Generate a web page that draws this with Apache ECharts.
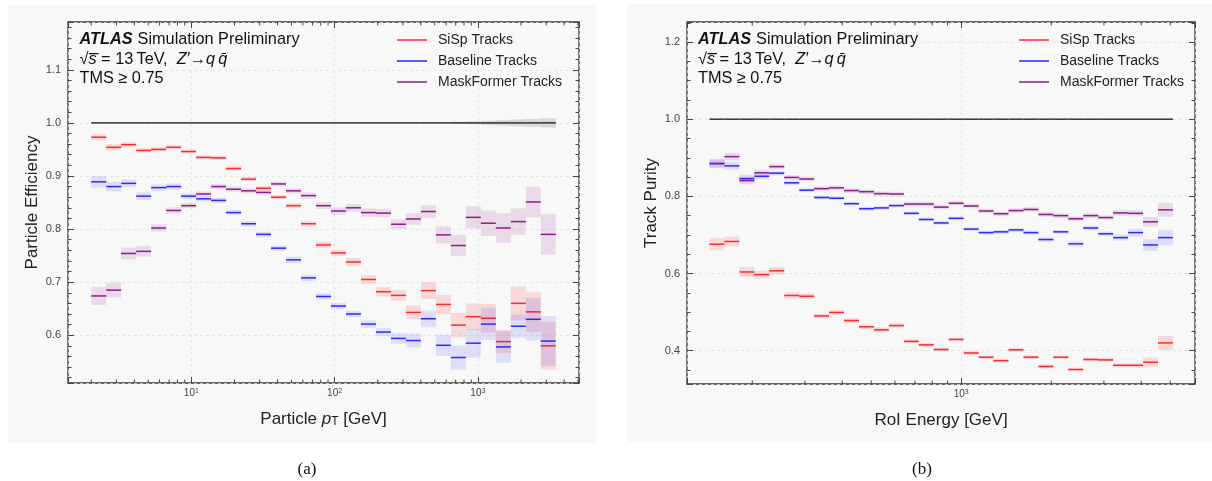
<!DOCTYPE html>
<html>
<head>
<meta charset="utf-8">
<script src="https://cdn.jsdelivr.net/npm/echarts@6/dist/echarts.min.js"></script>
<style>
html,body{margin:0;padding:0;background:#fff;}
#chart{width:1212px;height:481px;}
</style>
</head>
<body>
<div id="chart"></div>
<script>
// ---- panel (a): efficiency vs particle pT ----
var ptEdges = [2.00, 2.545, 3.237, 4.119, 5.241, 6.668, 8.484, 10.80, 13.73, 17.47, 22.23, 28.29, 35.99, 45.80, 58.27, 74.13,
  94.32, 120.0, 152.7, 194.3, 247.2, 314.5, 400.2, 509.2, 647.8, 824.2, 1048.6, 1334.2, 1697.5, 2159.7, 2747.9, 3496];
var sispEff = [0.973, 0.954, 0.959, 0.948, 0.950, 0.954, 0.946, 0.935, 0.934, 0.914, 0.894, 0.877, 0.860, 0.844, 0.810, 0.770,
  0.755, 0.738, 0.705, 0.682, 0.675, 0.643, 0.684, 0.658, 0.619, 0.635, 0.632, 0.588, 0.660, 0.644, 0.580];
var sispEffErr = [0.006, 0.006, 0.005, 0.004, 0.004, 0.004, 0.004, 0.004, 0.004, 0.004, 0.004, 0.004, 0.004, 0.005, 0.005, 0.006,
  0.006, 0.007, 0.008, 0.009, 0.010, 0.013, 0.016, 0.018, 0.023, 0.025, 0.027, 0.022, 0.032, 0.038, 0.045];
var baseEff = [0.889, 0.880, 0.886, 0.862, 0.878, 0.880, 0.862, 0.857, 0.854, 0.831, 0.810, 0.790, 0.764, 0.742, 0.708, 0.673,
  0.655, 0.640, 0.621, 0.606, 0.594, 0.590, 0.631, 0.581, 0.558, 0.585, 0.621, 0.578, 0.617, 0.630, 0.589];
var baseEffErr = [0.011, 0.009, 0.007, 0.007, 0.006, 0.006, 0.005, 0.005, 0.005, 0.005, 0.005, 0.005, 0.005, 0.006, 0.006, 0.006,
  0.006, 0.006, 0.007, 0.008, 0.010, 0.013, 0.016, 0.020, 0.023, 0.027, 0.030, 0.030, 0.022, 0.040, 0.047];
var mfEff = [0.674, 0.685, 0.754, 0.758, 0.802, 0.835, 0.844, 0.866, 0.880, 0.875, 0.872, 0.869, 0.885, 0.872, 0.863, 0.844,
  0.834, 0.840, 0.831, 0.830, 0.809, 0.819, 0.833, 0.789, 0.769, 0.822, 0.811, 0.802, 0.814, 0.851, 0.790];
var mfEffErr = [0.017, 0.014, 0.011, 0.010, 0.007, 0.006, 0.005, 0.005, 0.005, 0.005, 0.005, 0.005, 0.005, 0.005, 0.006, 0.006,
  0.007, 0.007, 0.008, 0.008, 0.009, 0.011, 0.012, 0.016, 0.020, 0.021, 0.024, 0.028, 0.025, 0.029, 0.038];
var truthErrA = [0, 0, 0, 0, 0, 0, 0, 0, 0, 0, 0, 0, 0, 0, 0, 0,
  0, 0, 0, 0, 0, 0, 0, 0, 0.002, 0.0025, 0.004, 0.005, 0.0065, 0.0075, 0.0088];
var minorTicksA = [2, 3, 4, 5, 6, 7, 8, 9, 20, 30, 40, 50, 60, 70, 80, 90, 200, 300, 400, 500, 600, 700, 800, 900, 2000, 3000, 4000, 5000];

// ---- panel (b): purity vs RoI energy ----
var eEdges = [143.9, 161.4, 181.1, 203.2, 228.0, 255.9, 287.1, 322.1, 361.4, 405.5, 455.0, 510.5, 572.8, 642.7, 721.1, 809.1,
  907.8, 1018.6, 1142.9, 1282.3, 1438.8, 1614.4, 1811.3, 2032.4, 2280.4, 2558.6, 2870.8, 3221.1, 3614.1, 4055.1, 4549.9, 5105];
var sispPur = [0.676, 0.683, 0.604, 0.597, 0.607, 0.543, 0.541, 0.490, 0.499, 0.478, 0.462, 0.454, 0.465, 0.424, 0.415, 0.403,
  0.429, 0.394, 0.383, 0.374, 0.402, 0.383, 0.359, 0.383, 0.351, 0.377, 0.376, 0.362, 0.362, 0.370, 0.420];
var sispPurErr = [0.016, 0.013, 0.013, 0.010, 0.010, 0.008, 0.007, 0.006, 0.006, 0.006, 0.006, 0.006, 0.006, 0.005, 0.005, 0.005,
  0.005, 0.005, 0.005, 0.005, 0.005, 0.005, 0.005, 0.005, 0.005, 0.005, 0.005, 0.006, 0.006, 0.012, 0.018];
var basePur = [0.885, 0.879, 0.846, 0.852, 0.860, 0.835, 0.816, 0.797, 0.795, 0.781, 0.768, 0.770, 0.776, 0.756, 0.740, 0.731,
  0.743, 0.715, 0.706, 0.708, 0.713, 0.706, 0.688, 0.708, 0.677, 0.718, 0.703, 0.693, 0.706, 0.674, 0.693];
var basePurErr = [0.010, 0.010, 0.010, 0.008, 0.006, 0.006, 0.005, 0.005, 0.005, 0.005, 0.005, 0.005, 0.005, 0.005, 0.005, 0.005,
  0.005, 0.005, 0.005, 0.005, 0.005, 0.005, 0.006, 0.005, 0.007, 0.006, 0.006, 0.008, 0.010, 0.015, 0.020];
var mfPur = [0.885, 0.903, 0.841, 0.861, 0.877, 0.849, 0.845, 0.820, 0.822, 0.815, 0.812, 0.807, 0.806, 0.780, 0.780, 0.772,
  0.782, 0.775, 0.762, 0.755, 0.763, 0.766, 0.753, 0.750, 0.742, 0.750, 0.745, 0.757, 0.756, 0.734, 0.765];
var mfPurErr = [0.012, 0.010, 0.010, 0.008, 0.007, 0.006, 0.006, 0.006, 0.006, 0.006, 0.006, 0.006, 0.006, 0.006, 0.006, 0.006,
  0.006, 0.006, 0.006, 0.006, 0.006, 0.006, 0.006, 0.006, 0.006, 0.006, 0.006, 0.008, 0.008, 0.012, 0.018];
var minorTicksB = [200, 300, 400, 500, 600, 700, 800, 900, 2000, 3000, 4000, 5000];

var seriesNames = ['SiSp Tracks', 'Baseline Tracks', 'MaskFormer Tracks'];
var FONT = '"Liberation Sans", Arial, sans-serif';
var RED = '#ff2a2a', BLUE = '#2a2aff', PURPLE = '#8a1f8a';

var chart = echarts.init(document.getElementById('chart'));

function binData(edges, vals, errs) {
  return vals.map(function (v, i) { return [edges[i], edges[i + 1], v, errs[i]]; });
}

// step segments with shaded error box
function binRenderer(lineColor, fillColor, lw) {
  return function (params, api) {
    var lo = api.value(0), hi = api.value(1), v = api.value(2), e = api.value(3);
    var cs = params.coordSys;
    var a = api.coord([lo, v]), b = api.coord([hi, v]);
    var children = [];
    if (e > 0) {
      var p1 = api.coord([lo, v + e]), p2 = api.coord([hi, v - e]);
      var r = echarts.graphic.clipRectByRect({x: p1[0], y: p1[1], width: p2[0] - p1[0], height: p2[1] - p1[1]},
        {x: cs.x, y: cs.y, width: cs.width, height: cs.height});
      if (r) children.push({type: 'rect', shape: r, style: {fill: fillColor}});
    }
    children.push({type: 'line', shape: {x1: a[0], y1: a[1], x2: b[0], y2: b[1]}, style: {stroke: lineColor, lineWidth: lw}});
    return {type: 'group', children: children};
  };
}

function minorTickRenderer(params, api) {
  var x = api.coord([api.value(0), api.value(1)])[0];
  var cs = params.coordSys;
  if (x <= cs.x + 0.5 || x >= cs.x + cs.width - 0.5) return;
  var bot = cs.y + cs.height;
  return {type: 'group', children: [
    {type: 'line', shape: {x1: x, y1: bot, x2: x, y2: bot - 3.5}, style: {stroke: '#444', lineWidth: 1}},
    {type: 'line', shape: {x1: x, y1: cs.y, x2: x, y2: cs.y + 3.5}, style: {stroke: '#444', lineWidth: 1}}
  ]};
}

function binSeries(name, gi, edges, vals, errs, color, fill) {
  return {
    name: name, type: 'custom', xAxisIndex: gi * 2, yAxisIndex: gi * 2, silent: true,
    itemStyle: {color: color},
    renderItem: binRenderer(color, fill, 1.5),
    encode: {x: [0, 1], y: [2]},
    data: binData(edges, vals, errs)
  };
}

function logLabel(v) {
  var e = Math.log10(v);
  if (Math.abs(e - Math.round(e)) > 0.01) return '';
  return '10{s|' + Math.round(e) + '}';
}

function xAxes(gi, min, max, name) {
  return [{
    type: 'log', gridIndex: gi, position: 'bottom', min: min, max: max, logBase: 10,
    name: name, nameLocation: 'middle', nameGap: 28,
    nameTextStyle: {fontFamily: FONT, fontSize: 17, color: '#222',
      rich: {i: {fontFamily: FONT, fontSize: 17, fontStyle: 'italic', color: '#222'},
             sub: {fontFamily: FONT, fontSize: 12, color: '#222', verticalAlign: 'bottom', lineHeight: 12}}},
    axisLine: {show: false},
    axisTick: {inside: true, length: 6, lineStyle: {color: '#444', width: 1}},
    axisLabel: {formatter: logLabel, margin: 5, color: '#444', fontFamily: FONT, fontSize: 10,
      rich: {s: {fontSize: 7, fontFamily: FONT, color: '#444', verticalAlign: 'top', lineHeight: 8}}},
    splitLine: {show: true, lineStyle: {type: [3, 3], color: '#e0e0e0', width: 0.8}}
  }, {
    type: 'log', gridIndex: gi, position: 'top', min: min, max: max, logBase: 10,
    axisLine: {show: false},
    axisTick: {inside: true, length: 6, lineStyle: {color: '#444', width: 1}},
    axisLabel: {show: false}, splitLine: {show: false}
  }];
}

function yAxes(gi, min, max, name, step, minorSplit) {
  var lab = function (v) {
    return Math.abs(v / step - Math.round(v / step)) < 1e-6 ? v.toFixed(1) : '';
  };
  return [{
    type: 'value', gridIndex: gi, position: 'left', min: min, max: max, splitNumber: 5,
    name: name, nameLocation: 'middle', nameGap: 27,
    nameTextStyle: {fontFamily: FONT, fontSize: 17, color: '#222'},
    axisLine: {show: false},
    axisTick: {inside: true, length: 6, lineStyle: {color: '#444', width: 1}},
    minorTick: {show: true, splitNumber: minorSplit, length: 3.5, lineStyle: {color: '#444', width: 1}},
    axisLabel: {formatter: lab, margin: 7, color: '#444', fontFamily: FONT, fontSize: 11},
    splitLine: {show: true, lineStyle: {type: [3, 3], color: '#e0e0e0', width: 0.8}}
  }, {
    type: 'value', gridIndex: gi, position: 'right', min: min, max: max, splitNumber: 5,
    axisLine: {show: false},
    axisTick: {inside: true, length: 6, lineStyle: {color: '#444', width: 1}},
    minorTick: {show: true, splitNumber: minorSplit, length: 3.5, lineStyle: {color: '#444', width: 1}},
    axisLabel: {show: false}, splitLine: {show: false}
  }];
}

function atlasTitle(left) {
  var base = {fontFamily: FONT, fontSize: 16.3, fontWeight: 'normal', color: '#111', lineHeight: 19.5};
  return {
    left: left, top: 25,
    text: '{a|ATLAS} {b|Simulation Preliminary}\n{b|\u221A}{i|s\u0305}{b| = 13\u2009TeV,  }{i|Z\u2032}{b|\u2192}{i|q\u2009q\u0304}\n{b|TMS \u2265 0.75}',
    textStyle: {fontWeight: 'normal', rich: {
      a: Object.assign({}, base, {fontWeight: 'bold', fontStyle: 'italic'}),
      b: base,
      i: Object.assign({}, base, {fontStyle: 'italic'})
    }}
  };
}

function legendAt(left) {
  return {
    left: left, top: 32, padding: 0, orient: 'vertical', icon: 'rect', itemWidth: 30, itemHeight: 1.5, itemGap: 5,
    selectedMode: false, data: seriesNames,
    textStyle: {fontFamily: FONT, fontSize: 14, color: '#222', lineHeight: 16, padding: [0, 0, 0, 6]}
  };
}

function truthSeries(gi, edges, errs) {
  return {
    type: 'custom', xAxisIndex: gi * 2, yAxisIndex: gi * 2, silent: true,
    renderItem: binRenderer('#333', 'rgba(120,120,120,0.25)', 1.5),
    encode: {x: [0, 1], y: [2]},
    data: binData(edges, edges.slice(1).map(function () { return 1.0; }), errs)
  };
}

function minorSeries(gi, ticks) {
  return {
    type: 'custom', xAxisIndex: gi * 2, yAxisIndex: gi * 2, silent: true,
    renderItem: minorTickRenderer, encode: {x: 0, y: 1},
    data: ticks.map(function (t) { return [t, 0.8]; })
  };
}

var option = {
  backgroundColor: '#ffffff',
  animation: false,
  graphic: [
    {type: 'rect', z: -10, shape: {x: 8, y: 5, width: 588, height: 438}, style: {fill: '#f8f8f8'}},
    {type: 'rect', z: -10, shape: {x: 627, y: 4, width: 585, height: 438}, style: {fill: '#f8f8f8'}}
  ],
  title: [
    atlasTitle(74.5),
    atlasTitle(693),
    {text: '(a)', left: 302, top: 456, textAlign: 'center',
      textStyle: {fontFamily: '"Liberation Serif", serif', fontSize: 17, fontWeight: 'normal', color: '#111'}},
    {text: '(b)', left: 917, top: 456, textAlign: 'center',
      textStyle: {fontFamily: '"Liberation Serif", serif', fontSize: 17, fontWeight: 'normal', color: '#111'}}
  ],
  legend: [legendAt(397), legendAt(1019)],
  grid: [
    {left: 68, top: 22, width: 511, height: 361, show: true, backgroundColor: 'transparent', borderColor: '#333', borderWidth: 1.3},
    {left: 687, top: 22, width: 508, height: 362, show: true, backgroundColor: 'transparent', borderColor: '#333', borderWidth: 1.3}
  ],
  xAxis: xAxes(0, 1.377, 5080, 'Particle {i|p}{sub|T} [GeV]').concat(xAxes(1, 121, 6050, 'RoI Energy [GeV]')),
  yAxis: yAxes(0, 0.51, 1.19, 'Particle Efficiency', 0.1, 5).concat(yAxes(1, 0.3135, 1.252, 'Track Purity', 0.2, 4)),
  series: [
    truthSeries(0, ptEdges, truthErrA),
    binSeries(seriesNames[0], 0, ptEdges, sispEff, sispEffErr, RED, 'rgba(255,0,0,0.12)'),
    binSeries(seriesNames[1], 0, ptEdges, baseEff, baseEffErr, BLUE, 'rgba(0,0,255,0.10)'),
    binSeries(seriesNames[2], 0, ptEdges, mfEff, mfEffErr, PURPLE, 'rgba(128,0,128,0.12)'),
    minorSeries(0, minorTicksA),
    truthSeries(1, eEdges, eEdges.slice(1).map(function () { return 0; })),
    binSeries(seriesNames[0], 1, eEdges, sispPur, sispPurErr, RED, 'rgba(255,0,0,0.12)'),
    binSeries(seriesNames[1], 1, eEdges, basePur, basePurErr, BLUE, 'rgba(0,0,255,0.10)'),
    binSeries(seriesNames[2], 1, eEdges, mfPur, mfPurErr, PURPLE, 'rgba(128,0,128,0.12)'),
    minorSeries(1, minorTicksB)
  ]
};
chart.setOption(option);
</script>
</body>
</html>
